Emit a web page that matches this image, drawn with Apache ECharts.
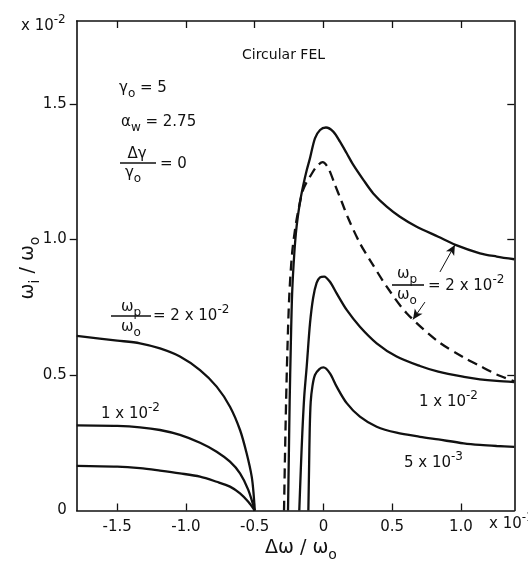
<!DOCTYPE html>
<html>
<head>
<meta charset="utf-8">
<script src="https://cdn.jsdelivr.net/npm/echarts@6/dist/echarts.min.js"></script>
<style>
  html, body { margin: 0; padding: 0; background: #fff; }
  #chart { width: 528px; height: 566px; }
</style>
</head>
<body>
<div id="chart"></div>
<script>
// Axis ticks (x in units of 1e-1, y in units of 1e-2)
const xTicks = [-1.5, -1.0, -0.5, 0, 0.5, 1.0];
const xTickLabels = ['-1.5', '-1.0', '-0.5', '0', '0.5', '1.0'];
const yTicks = [0, 0.5, 1.0, 1.5];
const yTickLabels = ['0', '0.5', '1.0', '1.5'];

// Low-frequency branch, ωp/ω0 = 2e-2, 1e-2, 5e-3
const lowBranch2e2 = [[-1.795, 0.644], [-1.5, 0.627], [-1.335, 0.617], [-1.189, 0.598], [-1.044, 0.568],
  [-0.898, 0.518], [-0.777, 0.457], [-0.68, 0.383], [-0.607, 0.297], [-0.559, 0.211], [-0.522, 0.125],
  [-0.508, 0.06], [-0.5, 0]];
const lowBranch1e2 = [[-1.795, 0.314], [-1.5, 0.312], [-1.335, 0.307], [-1.189, 0.297], [-1.044, 0.279],
  [-0.898, 0.25], [-0.777, 0.217], [-0.68, 0.18], [-0.607, 0.137], [-0.547, 0.076], [-0.5, 0]];
const lowBranch5e3 = [[-1.795, 0.165], [-1.5, 0.162], [-1.335, 0.156], [-1.189, 0.147], [-1.044, 0.137],
  [-0.898, 0.125], [-0.777, 0.106], [-0.68, 0.088], [-0.607, 0.063], [-0.547, 0.032], [-0.5, 0]];

// Resonant branch, ωp/ω0 = 2e-2 (solid)
const peak2e2 = [[-0.258, 0], [-0.252, 0.2], [-0.246, 0.4], [-0.238, 0.6], [-0.228, 0.8], [-0.212, 0.95],
  [-0.195, 1.05], [-0.17, 1.14], [-0.147, 1.2], [-0.122, 1.255], [-0.098, 1.3], [-0.062, 1.373],
  [-0.025, 1.404], [0.018, 1.413], [0.071, 1.398], [0.12, 1.361], [0.169, 1.318], [0.217, 1.275],
  [0.29, 1.22], [0.362, 1.17], [0.46, 1.121], [0.556, 1.084], [0.678, 1.047], [0.835, 1.01],
  [0.96, 0.98], [1.138, 0.949], [1.26, 0.937], [1.388, 0.927]];
// Resonant branch, ωp/ω0 = 2e-2 (dashed)
const peak2e2Dashed = [[-0.287, 0], [-0.28, 0.2], [-0.272, 0.4], [-0.262, 0.6], [-0.248, 0.8],
  [-0.228, 0.95], [-0.2, 1.06], [-0.17, 1.14], [-0.147, 1.185], [-0.122, 1.212], [-0.098, 1.232],
  [-0.05, 1.269], [-0.006, 1.285], [0.035, 1.263], [0.084, 1.201], [0.132, 1.14], [0.18, 1.078],
  [0.265, 0.986], [0.338, 0.924], [0.46, 0.826], [0.605, 0.728], [0.835, 0.623], [1.02, 0.565],
  [1.143, 0.532], [1.26, 0.502], [1.388, 0.477]];
// Resonant branch, ωp/ω0 = 1e-2
const peak1e2 = [[-0.176, 0], [-0.165, 0.15], [-0.154, 0.285], [-0.14, 0.42], [-0.122, 0.531],
  [-0.098, 0.69], [-0.075, 0.785], [-0.05, 0.84], [-0.025, 0.86], [0.005, 0.863], [0.047, 0.844],
  [0.096, 0.801], [0.169, 0.74], [0.265, 0.678], [0.387, 0.617], [0.532, 0.568], [0.702, 0.533],
  [0.835, 0.512], [1.022, 0.493], [1.138, 0.484], [1.26, 0.478], [1.388, 0.474]];
// Resonant branch, ωp/ω0 = 5e-3
const peak5e3 = [[-0.11, 0], [-0.105, 0.15], [-0.1, 0.3], [-0.093, 0.4], [-0.08, 0.46], [-0.062, 0.5],
  [-0.03, 0.522], [0, 0.528], [0.047, 0.506], [0.096, 0.457], [0.169, 0.396], [0.265, 0.346],
  [0.387, 0.309], [0.532, 0.287], [0.702, 0.272], [0.835, 0.262], [1.02, 0.248], [1.138, 0.242],
  [1.26, 0.238], [1.388, 0.235]];

// Pointer arrows from the right-hand label to the two 2e-2 curves
const arrowToSolid = [[0.847, 0.88], [0.956, 0.98]];
const arrowToDashed = [[0.738, 0.769], [0.651, 0.705]];

const FONT = 'DejaVu Sans';
const INK = '#111';

const rich = {
  b: { fontFamily: FONT, fontSize: 15, lineHeight: 24, color: INK },
  B: { fontFamily: FONT, fontSize: 19, lineHeight: 28, color: INK },
  sup: { fontFamily: FONT, fontSize: 12, lineHeight: 12, verticalAlign: 'top', color: INK },
  sub: { fontFamily: FONT, fontSize: 12, lineHeight: 12, verticalAlign: 'bottom', color: INK },
  s: { fontFamily: FONT, fontSize: 14, lineHeight: 14, verticalAlign: 'bottom', color: INK }
};

function label(x, y, text, align) {
  return {
    type: 'text', x: x, y: y, silent: true,
    style: { text: text, rich: rich, align: align || 'left', verticalAlign: 'middle', fill: INK }
  };
}
function bar(x1, x2, y) {
  return {
    type: 'line', silent: true,
    shape: { x1: x1, y1: y, x2: x2, y2: y },
    style: { stroke: INK, lineWidth: 1.6 }
  };
}

const chart = echarts.init(document.getElementById('chart'), null, { renderer: 'canvas' });

const lineSeries = (data, dashed) => ({
  type: 'line', data: data, showSymbol: false, symbol: 'none', silent: true,
  smooth: 0.3, clip: true,
  lineStyle: { color: INK, width: 2.3, type: dashed ? [10, 6] : 'solid' }
});

const axisLine = { show: true, onZero: false, lineStyle: { color: INK, width: 1.6 } };
const tickStyle = { color: INK, width: 1.3 };

chart.setOption({
  animation: false,
  backgroundColor: '#fff',
  grid: { left: 76.7, right: 13.7, top: 21, bottom: 55.5, containLabel: false },
  xAxis: [{
    type: 'value', position: 'bottom', min: -1.795, max: 1.388,
    axisLine: axisLine, splitLine: { show: false },
    axisTick: { show: true, inside: true, length: 7, customValues: xTicks, lineStyle: tickStyle },
    axisLabel: {
      show: true, customValues: xTicks, margin: 9, color: INK, fontFamily: FONT, fontSize: 15,
      formatter: v => xTickLabels[xTicks.indexOf(v)]
    }
  }, {
    type: 'value', position: 'top', min: -1.795, max: 1.388,
    axisLine: axisLine, splitLine: { show: false },
    axisTick: { show: true, inside: true, length: 7, customValues: xTicks, lineStyle: tickStyle },
    axisLabel: { show: false }
  }],
  yAxis: [{
    type: 'value', position: 'left', min: 0, max: 1.806,
    axisLine: axisLine, splitLine: { show: false },
    axisTick: { show: true, inside: false, length: 7, customValues: yTicks.slice(1), lineStyle: tickStyle },
    axisLabel: {
      show: true, customValues: yTicks, margin: 10, color: INK, fontFamily: FONT, fontSize: 15,
      formatter: v => yTickLabels[yTicks.indexOf(v)]
    }
  }, {
    type: 'value', position: 'right', min: 0, max: 1.806,
    axisLine: axisLine, splitLine: { show: false },
    axisTick: { show: true, inside: true, length: 7, customValues: yTicks.slice(1), lineStyle: tickStyle },
    axisLabel: { show: false }
  }],
  series: [
    lineSeries(lowBranch2e2),
    lineSeries(lowBranch1e2),
    lineSeries(lowBranch5e3),
    lineSeries(peak2e2Dashed, true),
    lineSeries(peak2e2),
    lineSeries(peak1e2),
    Object.assign(lineSeries(peak5e3), {
      markLine: {
        silent: true, symbol: ['none', 'arrow'], symbolSize: [7, 10], animation: false,
        label: { show: false },
        lineStyle: { color: INK, width: 1, type: 'solid' },
        emphasis: { disabled: true },
        data: [
          [{ coord: arrowToSolid[0] }, { coord: arrowToSolid[1] }],
          [{ coord: arrowToDashed[0] }, { coord: arrowToDashed[1] }]
        ]
      }
    })
  ],
  graphic: [
    // axis multipliers
    label(21, 26, '{b|x 10}{sup|-2}'),
    label(489, 524, '{b|x 10}{sup|-1}'),
    // axis titles
    label(301, 548, '{B|Δω / ω}{s|o}', 'center'),
    Object.assign(label(28, 268, '{B|ω}{s|i}{B| / ω}{s|o}', 'center'), { rotation: Math.PI / 2 }),
    // parameters
    { type: 'text', x: 242, y: 55, silent: true,
      style: { text: 'Circular FEL', fontFamily: FONT, fontSize: 14, fill: INK, verticalAlign: 'middle' } },
    label(119, 88, '{b|γ}{sub|o}{b| = 5}'),
    label(121, 122, '{b|α}{sub|w}{b| = 2.75}'),
    label(137, 154, '{b|Δγ}', 'center'),
    bar(120, 156, 163),
    label(133, 173, '{b|γ}{sub|o}', 'center'),
    label(160, 164, '{b|= 0}'),
    // curve labels, left
    label(131, 307, '{b|ω}{sub|p}', 'center'),
    bar(111, 151, 316),
    label(131, 327, '{b|ω}{sub|o}', 'center'),
    label(153, 316, '{b|= 2 x 10}{sup|-2}'),
    label(101, 414, '{b|1 x 10}{sup|-2}'),
    // curve labels, right
    label(407, 274, '{b|ω}{sub|p}', 'center'),
    bar(392, 424, 285),
    label(407, 295, '{b|ω}{sub|o}', 'center'),
    label(428, 286, '{b|= 2 x 10}{sup|-2}'),
    label(419, 402, '{b|1 x 10}{sup|-2}'),
    label(404, 463, '{b|5 x 10}{sup|-3}')
  ]
});
</script>
</body>
</html>
